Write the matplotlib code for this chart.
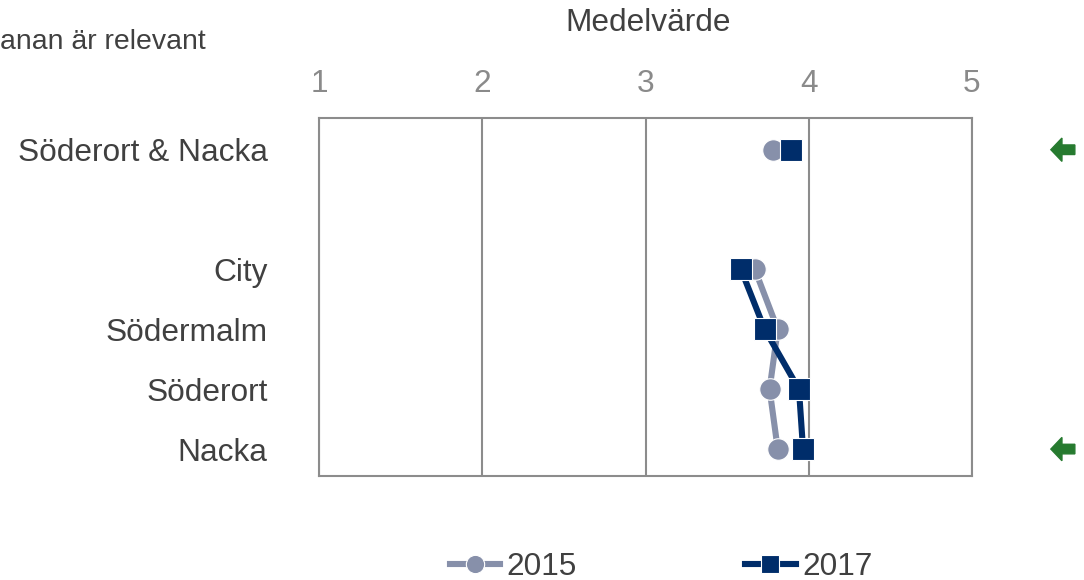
import matplotlib
matplotlib.use("Agg")
import matplotlib.pyplot as plt
from matplotlib.patches import FancyArrow
from matplotlib.lines import Line2D

plt.rcParams['font.family'] = ['Liberation Sans', 'DejaVu Sans']

categories = ["Söderort & Nacka", "", "City", "Södermalm", "Söderort", "Nacka"]
total_2015 = 3.78
total_2017 = 3.89
regions = ["City", "Södermalm", "Söderort", "Nacka"]
vals_2015 = [3.67, 3.81, 3.76, 3.81]
vals_2017 = [3.585, 3.73, 3.94, 3.965]
arrow_rows = ["Söderort & Nacka", "Nacka"]
x_ticks = [1, 2, 3, 4, 5]
series_names = ["2015", "2017"]

c15 = "#8790AA"
c17 = "#002D6A"
txt = "#404040"
grid = "#8C8C8C"
fs = 22.8

fig = plt.figure(figsize=(10.84, 5.8), dpi=100)
ax = fig.add_axes([319/1084, 1-476/580, (972-319)/1084, (476-118)/580])

pos = {c: i for i, c in enumerate(categories)}
ry = [pos[r] for r in regions]

ms_c = 15.5
ms_s = 16.0
lw = 4.4
kw15 = dict(color=c15, marker='o', markersize=ms_c, markeredgecolor='white',
            markeredgewidth=0.8, linewidth=lw, solid_capstyle='butt')
kw17 = dict(color=c17, marker='s', markersize=ms_s, markeredgecolor='white',
            markeredgewidth=0.8, linewidth=lw, solid_capstyle='butt')

ax.plot(vals_2015, ry, zorder=3, **kw15)
ax.plot([total_2015], [pos["Söderort & Nacka"]], zorder=3, **kw15)
ax.plot(vals_2017, ry, zorder=4, **kw17)
ax.plot([total_2017], [pos["Söderort & Nacka"]], zorder=4, **kw17)

ax.set_xlim(1, 5)
ax.set_ylim(5.45, -0.53)
ax.set_xticks(x_ticks)
ax.set_xticklabels([str(t) for t in x_ticks])
ax.xaxis.tick_top()
ax.tick_params(axis='x', length=0, pad=14, labelsize=fs, labelcolor="#8A8A8A")
ax.set_yticks(range(len(categories)))
ax.set_yticklabels(categories)
ax.tick_params(axis='y', length=0, pad=37, labelsize=fs, labelcolor=txt)
ax.xaxis.grid(True, color=grid, linewidth=1.5)
ax.set_axisbelow(True)
for s in ax.spines.values():
    s.set_color(grid)
    s.set_linewidth(1.5)

# significance arrows
for r in arrow_rows:
    y = pos[r]
    a = FancyArrow(5.63, y, -0.147, 0, width=0.16, head_width=0.39,
                   head_length=0.068, length_includes_head=True,
                   color="#267A2F", clip_on=False, transform=ax.transData)
    ax.add_patch(a)

fig.text(648/1084, 1-23/580, "Medelvärde", ha='center', va='center',
         fontsize=fs, color=txt)
fig.text(206/1084, 1-42/580, "anan är relevant", ha='right', va='center',
         fontsize=20.4, color=txt)

handles = [
    Line2D([], [], color=c15, marker='o', markersize=ms_c * 0.85, markeredgecolor='white',
           markeredgewidth=0.8, linewidth=lw),
    Line2D([], [], color=c17, marker='s', markersize=ms_s * 0.8, markeredgecolor='white',
           markeredgewidth=0.8, linewidth=lw),
]
fig.legend(handles, series_names, loc='center', bbox_to_anchor=(661/1084, 1-567/580),
           ncol=2, frameon=False, fontsize=fs, labelcolor=txt,
           handlelength=1.6, handletextpad=0.2, columnspacing=5.3, borderaxespad=0)

fig.savefig("out.png", dpi=100)
